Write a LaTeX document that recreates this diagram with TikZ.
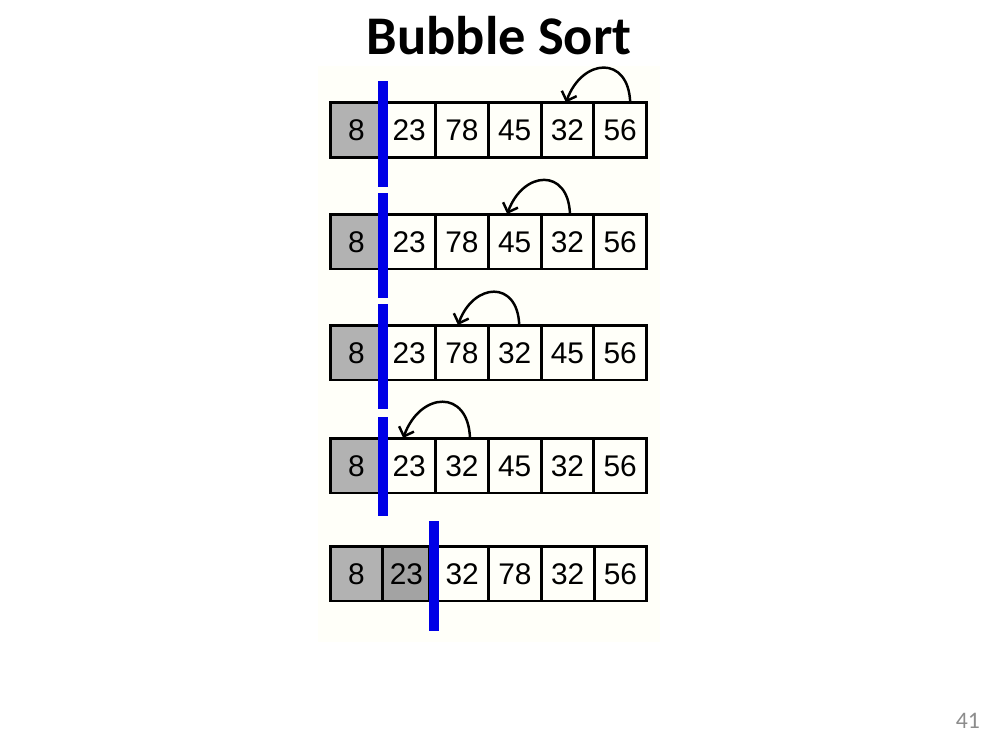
\documentclass[tikz,border=0pt]{standalone}
\usepackage{fontspec}
\setmainfont{Carlito}
\newfontfamily\cellfont{Liberation Sans}
\usepackage{xcolor}
\usetikzlibrary{positioning,arrows.meta}
\definecolor{paper}{RGB}{255,255,249}
\definecolor{wallblue}{RGB}{0,0,230}

\begin{document}
\begin{tikzpicture}[
    x=0.02cm, y=-0.02cm,
    node distance=0cm,
    cell/.style={rectangle, draw, line width=1.7pt, inner sep=0pt, outer sep=0pt, minimum width=1.055cm, minimum height=1.1cm, text height=12.2pt, text depth=0pt, font=\cellfont\fontsize{17}{20}\selectfont},
    sorted/.style={cell, fill=black!30},
    wall/.style={rectangle, fill=wallblue, inner sep=0pt, minimum width=0.2cm, minimum height=2.12cm},
    swap/.style={-{Straight Barb[length=4.5pt,width=9pt]}, line width=1.4pt, out=92, in=70, looseness=1.9}
]
\useasboundingbox (0,0) rectangle (1000,750);
\fill[paper] (318,66) rectangle (660,642);

% Title
\node[font=\bfseries\fontsize{31}{36}\selectfont, anchor=base] (title) at (499,55) {Bubble Sort};

% Pass 1
\node[sorted] (r1c1) at (356.5,130) {8};
\node[cell, right=of r1c1] (r1c2) {23};
\node[cell, right=of r1c2] (r1c3) {78};
\node[cell, right=of r1c3] (r1c4) {45};
\node[cell, right=of r1c4] (r1c5) {32};
\node[cell, right=of r1c5] (r1c6) {56};
\node[wall, yshift=-0.08cm] (w1) at (r1c1.east) {};
\draw[swap] ([xshift=0.2cm]r1c6.north) to ([xshift=-0.03cm]r1c5.north);

% Pass 2
\node[sorted] (r2c1) at (356.5,241.5) {8};
\node[cell, right=of r2c1] (r2c2) {23};
\node[cell, right=of r2c2] (r2c3) {78};
\node[cell, right=of r2c3] (r2c4) {45};
\node[cell, right=of r2c4] (r2c5) {32};
\node[cell, right=of r2c5] (r2c6) {56};
\node[wall, yshift=-0.08cm] (w2) at (r2c1.east) {};
\draw[swap] ([xshift=0.05cm]r2c5.north) to ([xshift=-0.15cm]r2c4.north);

% Pass 3
\node[sorted] (r3c1) at (356.5,352.5) {8};
\node[cell, right=of r3c1] (r3c2) {23};
\node[cell, right=of r3c2] (r3c3) {78};
\node[cell, right=of r3c3] (r3c4) {32};
\node[cell, right=of r3c4] (r3c5) {45};
\node[cell, right=of r3c5] (r3c6) {56};
\node[wall, yshift=-0.08cm] (w3) at (r3c1.east) {};
\draw[swap] ([xshift=0.09cm]r3c4.north) to ([xshift=-0.08cm]r3c3.north);

% Pass 4
\node[sorted] (r4c1) at (356.5,465.5) {8};
\node[cell, right=of r4c1] (r4c2) {23};
\node[cell, right=of r4c2] (r4c3) {32};
\node[cell, right=of r4c3] (r4c4) {45};
\node[cell, right=of r4c4] (r4c5) {32};
\node[cell, right=of r4c5] (r4c6) {56};
\node[wall, yshift=-0.02cm, minimum height=2.0cm] (w4) at (r4c1.east) {};
\draw[swap] ([xshift=0.16cm]r4c3.north) to ([xshift=-0.12cm]r4c2.north);

% Wall moves on
\node[sorted] (r5c1) at (356.5,573.5) {8};
\node[sorted, fill=black!36, minimum width=0.94cm, right=of r5c1] (r5c2) {23};
\node[cell, right=0.12cm of r5c2] (r5c3) {32};
\node[cell, right=of r5c3] (r5c4) {78};
\node[cell, right=of r5c4] (r5c5) {32};
\node[cell, right=of r5c5] (r5c6) {56};
\node[wall, xshift=0.08cm, yshift=-0.05cm, minimum height=2.2cm] (w5) at (r5c2.east) {};

% Page number
\node[text=black!45, font=\fontsize{13.5}{16}\selectfont, anchor=base east] (page) at (986,728) {41};

\end{tikzpicture}
\end{document}
